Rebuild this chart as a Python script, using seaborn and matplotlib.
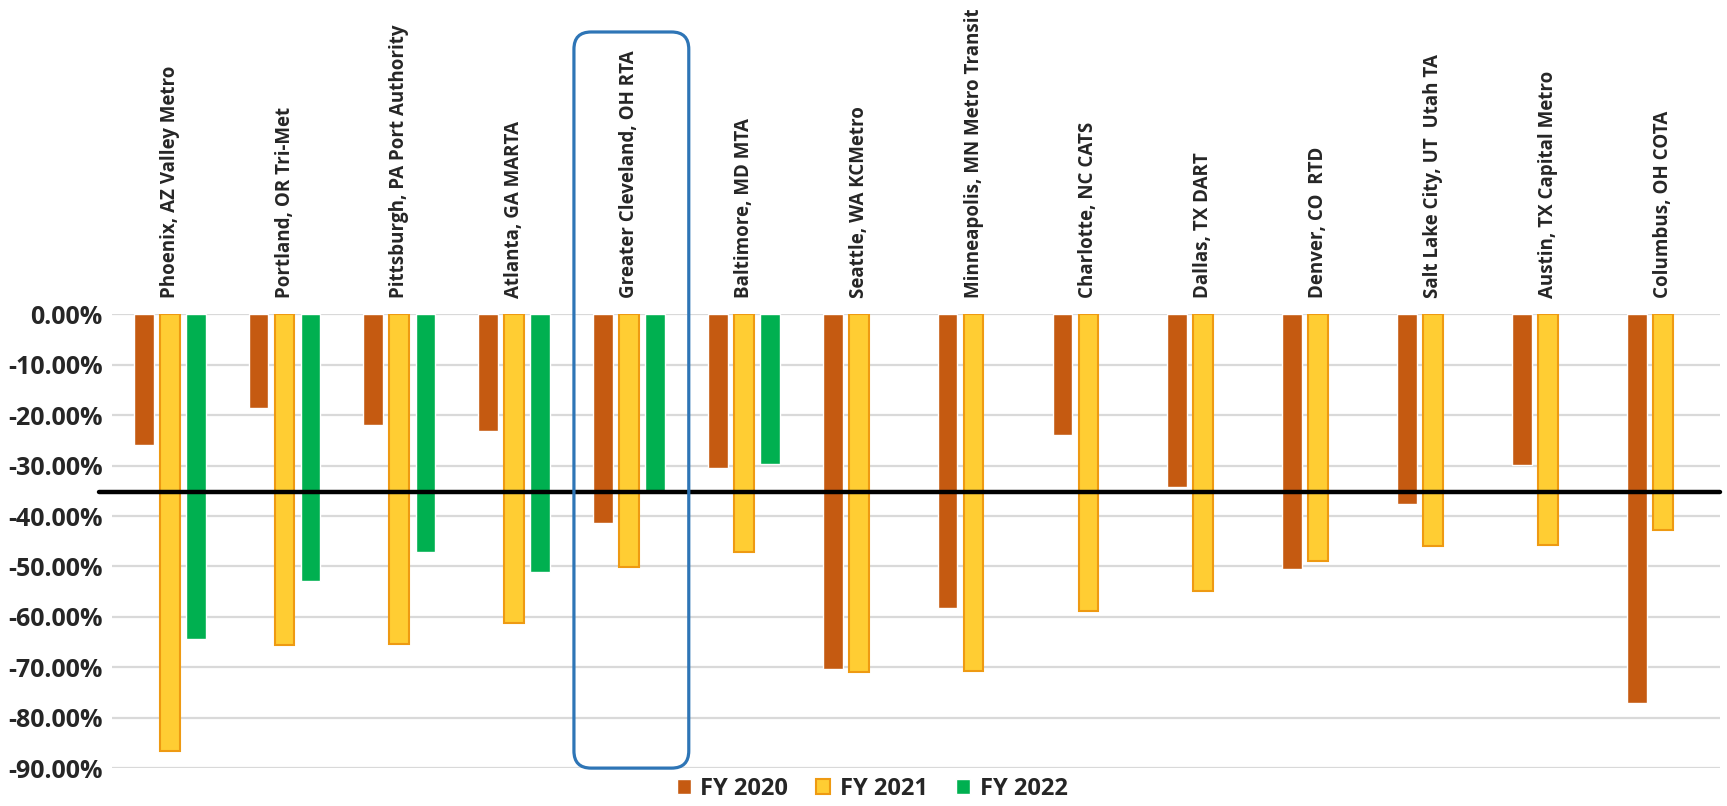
import matplotlib
matplotlib.use("Agg")
import matplotlib.pyplot as plt
import numpy as np
import pandas as pd
import seaborn as sns
from matplotlib.patches import FancyBboxPatch, Patch
from matplotlib.ticker import FuncFormatter

agencies = [
    "Phoenix, AZ Valley Metro",
    "Portland, OR Tri-Met",
    "Pittsburgh, PA Port Authority",
    "Atlanta, GA MARTA",
    "Greater Cleveland, OH RTA",
    "Baltimore, MD MTA",
    "Seattle, WA KCMetro",
    "Minneapolis, MN Metro Transit",
    "Charlotte, NC CATS",
    "Dallas, TX DART",
    "Denver, CO  RTD",
    "Salt Lake City, UT  Utah TA",
    "Austin, TX Capital Metro",
    "Columbus, OH COTA",
]
fy2020 = [-25.9, -18.5, -21.9, -23.1, -41.3, -30.4, -70.4, -58.2, -23.9, -34.2, -50.6, -37.6, -29.8, -77.0]
fy2021 = [-86.7, -65.6, -65.4, -61.3, -50.2, -47.1, -70.9, -70.7, -58.8, -54.8, -49.0, -46.0, -45.8, -42.8]
fy2022 = [-64.4, -52.9, -47.2, -51.2, -35.0, -29.7, None, None, None, None, None, None, None, None]
years = ["FY 2020", "FY 2021", "FY 2022"]
colors = ["#C55A11", "#FFCD33", "#00B050"]
benchmark = -35.2
highlight = "Greater Cleveland, OH RTA"

sns.set_style("white")
plt.rcParams["font.family"] = ["Open Sans", "DejaVu Sans"]
plt.rcParams["font.weight"] = "bold"

df = pd.DataFrame({
    "Agency": agencies * 3,
    "Year": [y for y in years for _ in agencies],
    "Change": fy2020 + fy2021 + fy2022,
}).dropna()

fig = plt.figure(figsize=(17.27, 8.06), dpi=100)
ax = fig.add_axes([0.065, 0.047, 0.931, 0.563])

sns.barplot(data=df, x="Agency", y="Change", hue="Year", order=agencies, hue_order=years,
            palette=colors, saturation=1, width=0.68, gap=0.24, errorbar=None,
            legend=False, ax=ax)

# yellow bars get an orange outline like the original
for bar in ax.containers[1]:
    bar.set_edgecolor("#EE9A12")
    bar.set_linewidth(1.5)

ax.set_ylim(-90, 0)
ax.set_xlim(-0.5, len(agencies) - 0.5)
ax.set_yticks(np.arange(-90, 1, 10))
ax.yaxis.set_major_formatter(FuncFormatter(lambda v, p: f"{v:.2f}%"))
ax.yaxis.grid(True, color="#D9D9D9", linewidth=1.6)
ax.set_axisbelow(True)
sns.despine(ax=ax, left=True, bottom=True)
ax.set_xlabel("")
ax.set_ylabel("")

ax.xaxis.tick_top()
ax.set_xticks(range(len(agencies)))
ax.set_xticklabels(agencies, rotation=90, fontsize=13.5, fontweight="bold")
ax.tick_params(axis="x", length=0, pad=12)
ax.tick_params(axis="y", length=0, pad=7, labelsize=18)
for t in ax.get_yticklabels():
    t.set_fontweight("bold")

ax.axhline(benchmark, xmin=-0.008, xmax=1.0, color="black", linewidth=3.2, clip_on=False, zorder=5)

# rounded box around the highlighted agency
p0 = ax.transData.transform((0, 0))
p1 = ax.transData.transform((1, 1))
aspect = (p1[0] - p0[0]) / (p1[1] - p0[1])
i = agencies.index(highlight)
box = FancyBboxPatch((i - 0.48, -90), 1.0, 146.0,
                     boxstyle="round,pad=0,rounding_size=0.15", mutation_aspect=aspect,
                     facecolor="none", edgecolor="#2E75B6", linewidth=2.3,
                     clip_on=False, zorder=6)
ax.add_patch(box)

handles = [Patch(facecolor=colors[0]),
           Patch(facecolor=colors[1], edgecolor="#EE9A12", linewidth=1.5),
           Patch(facecolor=colors[2])]
fig.legend(handles, years, loc="lower center", bbox_to_anchor=(0.505, -0.02), ncol=3,
           frameon=False, handlelength=0.6, handleheight=0.6,
           handletextpad=0.4, columnspacing=1.2, prop={"weight": "bold", "size": 17})

fig.savefig("out.png", dpi=100)
